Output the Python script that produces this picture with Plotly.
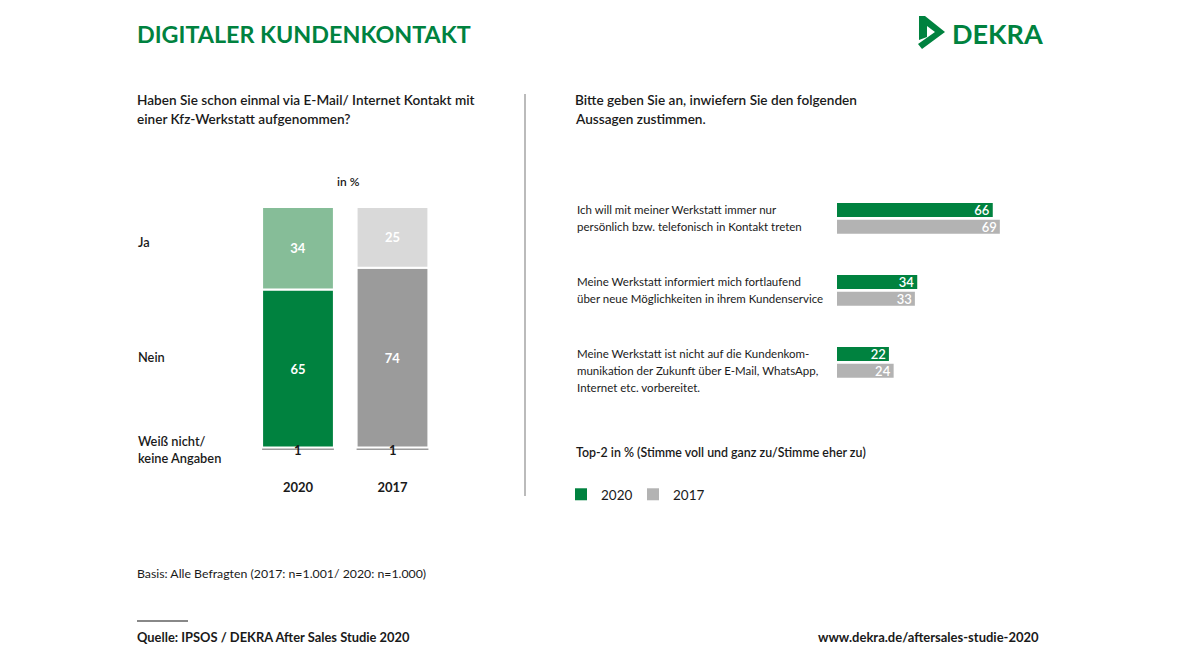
import plotly.graph_objects as go

W, H = 1180, 664
OFF = 8  # the page body margin shifts the figure by 8px

def px(x):
    return (x - OFF) / W

def py(y):
    return 1 - (y - OFF) / H

# ---------------- data ----------------
years = ["2020", "2017"]
ja = [34, 25]
nein = [65, 74]
weiss = [1, 1]
answer_labels = ["Ja", "Nein", "Weiß nicht/<br>keine Angaben"]

statements = [
    ["Ich will mit meiner Werkstatt immer nur", "persönlich bzw. telefonisch in Kontakt treten"],
    ["Meine Werkstatt informiert mich fortlaufend", "über neue Möglichkeiten in ihrem Kundenservice"],
    ["Meine Werkstatt ist nicht auf die Kundenkom-", "munikation der Zukunft über E-Mail, WhatsApp,", "Internet etc. vorbereitet."],
]
statement_keys = ["s1", "s2", "s3"]
top2_2020 = [66, 34, 22]
top2_2017 = [69, 33, 24]

# ---------------- styles ----------------
GREEN = "#00823F"
LIGHT_GREEN = "#86BD98"
LIGHT_GRAY = "#D9D9D9"
MID_GRAY = "#9B9B9B"
BAR_GRAY = "#B3B3B3"
FONT = "Lato, 'Noto Sans', sans-serif"
TXT = "#1a1a1a"

fig = go.Figure()

# left stacked bars (explicit base computed from the data)
base_nein = weiss
base_ja = [w + n for w, n in zip(weiss, nein)]

fig.add_trace(go.Bar(
    x=years, y=weiss, base=[0, 0], width=0.76,
    marker=dict(color=MID_GRAY, line=dict(width=0)),
    showlegend=False, hoverinfo="skip", xaxis="x", yaxis="y",
))
fig.add_trace(go.Bar(
    x=years, y=nein, base=base_nein, width=0.76,
    marker=dict(color=[GREEN, MID_GRAY], line=dict(color="white", width=2)),
    text=[str(v) for v in nein], textposition="inside", insidetextanchor="middle",
    textangle=0,
    textfont=dict(color="white", size=13, family=FONT, weight="bold"),
    showlegend=False, hoverinfo="skip", xaxis="x", yaxis="y",
))
fig.add_trace(go.Bar(
    x=years, y=ja, base=base_ja, width=0.76,
    marker=dict(color=[LIGHT_GREEN, LIGHT_GRAY], line=dict(color="white", width=2)),
    text=[str(v) for v in ja], textposition="inside", insidetextanchor="middle",
    textangle=0,
    textfont=dict(color="white", size=13, family=FONT, weight="bold"),
    showlegend=False, hoverinfo="skip", xaxis="x", yaxis="y",
))

# right grouped horizontal bars
fig.add_trace(go.Bar(
    y=statement_keys, x=top2_2020, orientation="h", name="2020",
    offset=-0.21, width=0.195,
    marker=dict(color=GREEN, line=dict(width=0)),
    text=[str(v) for v in top2_2020], textposition="inside", insidetextanchor="end",
    textangle=0, constraintext="none",
    textfont=dict(color="white", size=13, family=FONT, weight=600),
    hoverinfo="skip", xaxis="x2", yaxis="y2",
))
fig.add_trace(go.Bar(
    y=statement_keys, x=top2_2017, orientation="h", name="2017",
    offset=0.025, width=0.195,
    marker=dict(color=BAR_GRAY, line=dict(width=0)),
    text=[str(v) for v in top2_2017], textposition="inside", insidetextanchor="end",
    textangle=0, constraintext="none",
    textfont=dict(color="white", size=13, family=FONT, weight=600),
    hoverinfo="skip", xaxis="x2", yaxis="y2",
))

annotations = []

def ann(x, y, text, size=13, color=TXT, weight="normal", xanchor="left", yanchor="middle",
        xref="paper", yref="paper", yshift=0, align="left"):
    annotations.append(dict(
        x=x, y=y, xref=xref, yref=yref, text=text, showarrow=False,
        xanchor=xanchor, yanchor=yanchor, yshift=yshift, align=align,
        font=dict(family=FONT, size=size, color=color, weight=weight),
    ))

# title & logo text
ann(px(135), py(34), "DIGITALER KUNDENKONTAKT", size=23.3, color=GREEN, weight="bold")
ann(px(950), py(33), "DEKRA", size=27, color=GREEN, weight="bold")

# subtitles
ann(px(135), py(100), "Haben Sie schon einmal via E-Mail/ Internet Kontakt mit", size=13.6, weight=600)
ann(px(135), py(119), "einer Kfz-Werkstatt aufgenommen?", size=13.6, weight=600)
ann(px(573), py(100), "Bitte geben Sie an, inwiefern Sie den folgenden", size=13.6, weight=600)
ann(px(573), py(119), "Aussagen zustimmen.", size=13.6, weight=600)

# in %
ann(px(348), py(182), "in %", size=12, weight=600, xanchor="center")

# left answer labels
ann(px(136), py(242), answer_labels[0], size=12.8, weight=600)
ann(px(136), py(357), answer_labels[1], size=12.8, weight=600)
ann(px(136), py(449), answer_labels[2], size=12.8, weight=600)

# "1" labels for the small segment (category index as x position)
for i, w in enumerate(weiss):
    ann(i, w / 2, str(w), size=13, weight="bold", xanchor="center", xref="x", yref="y", yshift=-1)

# statement labels (one annotation per line)
for key, lines in zip(statement_keys, statements):
    for i, line in enumerate(lines):
        ann(px(575), key, line, size=11.5, xref="paper", yref="y2", yshift=8 - i * 16.8)

# top-2 note
ann(px(574), py(452), "Top-2 in % (Stimme voll und ganz zu/Stimme eher zu)", size=12.4, weight=600)

# footer
ann(px(135), py(573), "Basis: Alle Befragten (2017: n=1.001/ 2020: n=1.000)", size=12.3)
ann(px(135), py(637), "Quelle: IPSOS / DEKRA After Sales Studie 2020", size=12.9, weight="bold")
ann(px(1041), py(637), "www.dekra.de/aftersales-studie-2020", size=13, weight="bold", xanchor="right")

shapes = [
    # divider
    dict(type="line", xref="paper", yref="paper", x0=px(525), x1=px(525), y0=py(94), y1=py(496),
         line=dict(color="#BBBBBB", width=2)),
    # footer rule
    dict(type="line", xref="paper", yref="paper", x0=px(137), x1=px(188), y0=py(621), y1=py(621),
         line=dict(color="#888888", width=2)),
]

# logo mark (DEKRA chevron) drawn in paper coordinates
logo_pts = [(919, 16), (925, 16), (945, 32), (922, 49), (918, 44), (935, 32), (927, 26),
            (927, 37), (919, 40)]
path = "M " + " L ".join(f"{px(x):.5f},{py(y):.5f}" for x, y in logo_pts) + " Z"
shapes.append(dict(type="path", xref="paper", yref="paper", path=path,
                   fillcolor=GREEN, line=dict(width=0)))

fig.update_layout(
    width=W, height=H,
    margin=dict(l=0, r=0, t=0, b=0),
    paper_bgcolor="white", plot_bgcolor="white",
    barmode="overlay",
    font=dict(family=FONT, color=TXT),
    xaxis=dict(domain=[px(250.75), px(439.75)], type="category", range=[-0.5, 1.5],
               showgrid=False, zeroline=False, showline=False, ticks="",
               tickfont=dict(family=FONT, size=13, color=TXT, weight="bold"),
               ticklabelstandoff=28, fixedrange=True),
    yaxis=dict(domain=[py(450), py(207)], range=[0, 100], visible=False, fixedrange=True),
    xaxis2=dict(domain=[px(837), px(1073)], range=[0, 100], visible=False, fixedrange=True,
                anchor="y2"),
    yaxis2=dict(domain=[py(398), py(182)], type="category", range=[2.5, -0.5],
                visible=False, fixedrange=True, anchor="x2"),
    showlegend=True,
    legend=dict(orientation="h", x=px(561), y=py(479), xanchor="left", yanchor="top",
                font=dict(family=FONT, size=13.5, color=TXT),
                entrywidth=27, entrywidthmode="pixels", bgcolor="rgba(0,0,0,0)",
                traceorder="normal"),
    annotations=annotations,
    shapes=shapes,
)

fig.write_html("out.html")
